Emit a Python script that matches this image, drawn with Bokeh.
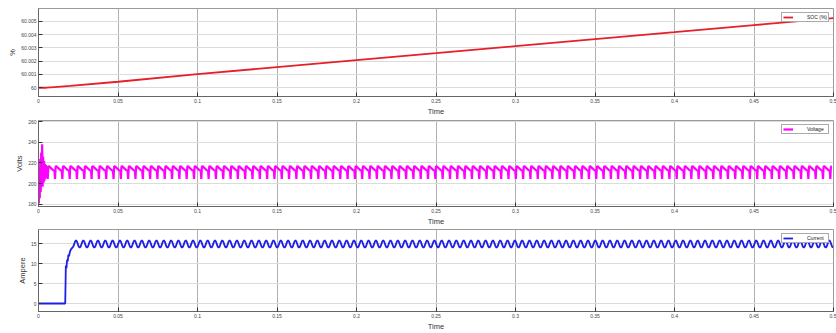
from bokeh.plotting import figure
from bokeh.layouts import column
from bokeh.models import (FixedTicker, CustomJSTickFormatter, Range1d,
                          Legend, LegendItem)
from bokeh.embed import file_html
from bokeh.resources import INLINE

# ---------------- data ----------------
x_ticks = [0, 0.05, 0.1, 0.15, 0.2, 0.25, 0.3, 0.35, 0.4, 0.45, 0.5]
soc_ticks = [60, 60.001, 60.002, 60.003, 60.004, 60.005]
volt_ticks = [180, 200, 220, 240, 260]
amp_ticks = [0, 5, 10, 15]

soc_t = [0, 0.005, 0.01, 0.02, 0.05, 0.1, 0.15, 0.2, 0.25, 0.3, 0.35, 0.4, 0.45, 0.5]
soc_v = [60.0, 60.0, 60.00005, 60.00014, 60.00045, 60.00102, 60.00155, 60.00208,
         60.0026, 60.00313, 60.00366, 60.00418, 60.00471, 60.00524]

volt_start_t = [0, 0.0002, 0.0005, 0.0008, 0.0011, 0.0014, 0.0017, 0.002, 0.0023,
                0.0026, 0.0029, 0.0032, 0.0035, 0.0038, 0.0041, 0.0044, 0.0047,
                0.005, 0.0053, 0.0056]
volt_start_v = [205, 181, 215, 186, 224, 192, 230, 200, 238, 197, 226, 201, 222,
                203, 219, 205, 218, 207, 217, 214]
volt_cycle_phase = [0, 0.08, 0.2, 0.45, 0.75, 0.92]
volt_cycle_v = [204.5, 216.5, 216.8, 215.0, 213.0, 212.5]
volt_period = 0.0046
volt_cycle_t0 = 0.0058

curr_start_t = [0, 0.0168, 0.0172, 0.0176, 0.018, 0.0184, 0.0188, 0.0192, 0.0198,
                0.0205]
curr_start_v = [0, 0, 9.5, 8.8, 11.0, 10.5, 12.2, 11.8, 13.0, 13.6]
curr_cycle_phase = [0, 0.125, 0.25, 0.375, 0.5, 0.625, 0.75, 0.875]
curr_cycle_v = [13.95, 14.2, 14.85, 15.5, 15.8, 15.5, 14.85, 14.2]
curr_period = 0.0046
curr_cycle_t0 = 0.0213
t_end = 0.5


def repeat_cycle(t0, period, phase, vals, t_stop):
    ts, vs = [], []
    k = 0
    while t0 + k * period <= t_stop:
        base = t0 + k * period
        for ph, v in zip(phase, vals):
            t = base + ph * period
            if t <= t_stop:
                ts.append(t)
                vs.append(v)
        k += 1
    return ts, vs


vt, vv = repeat_cycle(volt_cycle_t0, volt_period, volt_cycle_phase, volt_cycle_v, t_end)
volt_t = volt_start_t + vt
volt_v = volt_start_v + vv
ct, cv = repeat_cycle(curr_cycle_t0, curr_period, curr_cycle_phase, curr_cycle_v, t_end)
curr_t = curr_start_t + ct
curr_v = curr_start_v + cv

FONT = "Liberation Sans"


def make_fig(height, yr, yticks, ylabel, top_b, bottom_b):
    p = figure(width=836, height=height, x_range=Range1d(0, 0.5), y_range=Range1d(*yr),
               output_backend="svg", toolbar_location=None,
               min_border_left=38, min_border_right=3,
               min_border_top=top_b, min_border_bottom=bottom_b)
    p.background_fill_color = "white"
    p.border_fill_color = "white"
    p.outline_line_color = "#9a9a9a"
    p.xaxis.ticker = FixedTicker(ticks=x_ticks)
    p.yaxis.ticker = FixedTicker(ticks=yticks)
    p.xaxis.formatter = CustomJSTickFormatter(code="return String(parseFloat(tick.toFixed(6)));")
    p.yaxis.formatter = CustomJSTickFormatter(code="return String(parseFloat(tick.toFixed(6)));")
    p.xaxis.axis_label = "Time"
    p.yaxis.axis_label = ylabel
    for ax in [p.xaxis, p.yaxis]:
        ax.axis_line_color = "#666666"
        ax.major_tick_in = 4
        ax.major_tick_out = 0
        ax.major_tick_line_color = "#333333"
        ax.minor_tick_line_color = None
        ax.major_label_text_font_size = "5px"
        ax.major_label_text_color = "#444444"
        ax.major_label_text_font = FONT
        ax.major_label_standoff = 2
        ax.axis_label_text_font_size = "7.5px"
        ax.axis_label_text_font_style = "normal"
        ax.axis_label_text_font = FONT
        ax.axis_label_text_color = "#333333"
        ax.axis_label_standoff = 1
    p.xgrid.grid_line_color = "#b0b0b0"
    p.ygrid.grid_line_color = "#dcdcdc"
    return p


def add_legend(p, r, label):
    leg = Legend(items=[LegendItem(label=label, renderers=[r])], location="top_right",
                 label_text_font_size="5px", label_text_font=FONT, label_text_color="#222222",
                 glyph_width=10, glyph_height=6, label_height=6, label_standoff=14,
                 padding=1, margin=4, spacing=0, border_line_color="#555555",
                 border_line_width=1, background_fill_alpha=1.0)
    p.add_layout(leg)


p1 = make_fig(118, (59.99934, 60.00596), soc_ticks, "%", 8, 20)
r1 = p1.line(soc_t, soc_v, line_color="#e5202a", line_width=1.8)
add_legend(p1, r1, "SOC (%)")

p2 = make_fig(110, (178, 261), volt_ticks, "Volts", 2, 20)
r2 = p2.line(volt_t, volt_v, line_color="#ff00ff", line_width=2.2)
add_legend(p2, r2, "Voltage")

p3 = make_fig(105, (-2, 18.5), amp_ticks, "Ampere", 1, 16)
r3 = p3.line(curr_t, curr_v, line_color="#1f1fe6", line_width=1.8)
add_legend(p3, r3, "Current")

layout = column(p1, p2, p3, spacing=0)
open("out.html", "w").write(file_html(layout, INLINE))
